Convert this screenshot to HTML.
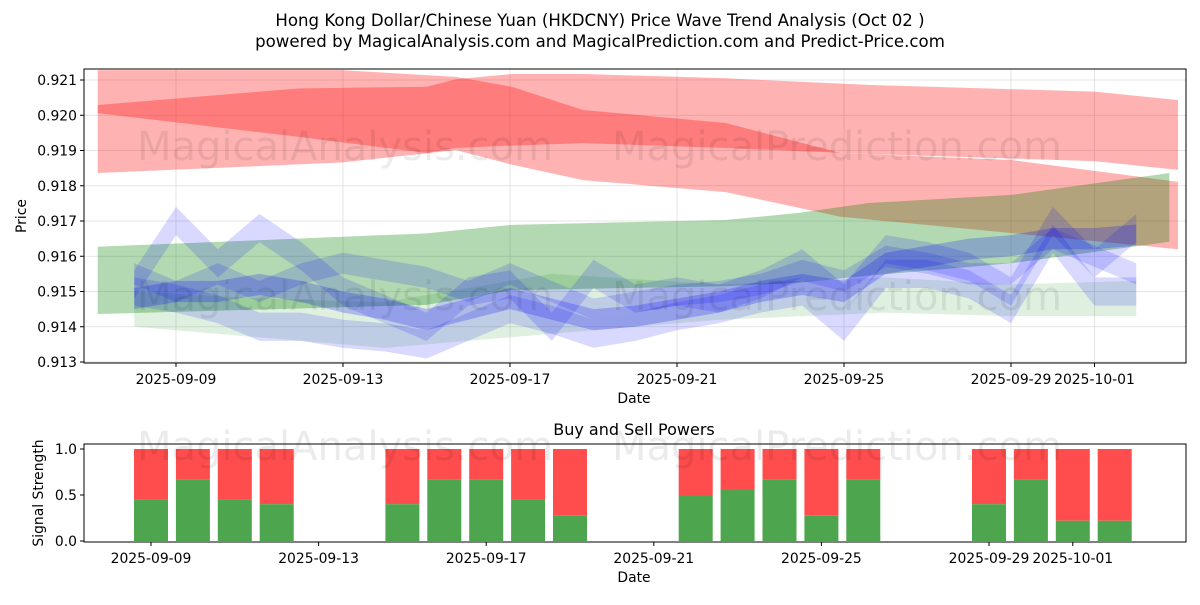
<!DOCTYPE html>
<html><head><meta charset="utf-8"><style>
body{margin:0;background:#fff;font-family:"Liberation Sans","DejaVu Sans",sans-serif}
svg text{font-family:"DejaVu Sans","Liberation Sans",sans-serif}
</style></head><body>
<svg id="c" width="1200" height="600" xmlns="http://www.w3.org/2000/svg">
<defs><clipPath id="clipTop"><rect x="84" y="69" width="1102" height="294"/></clipPath></defs>
<rect width="1200" height="600" fill="#fff"/>
<text x="600" y="26" font-size="16.6" text-anchor="middle">Hong Kong Dollar/Chinese Yuan (HKDCNY) Price Wave Trend Analysis (Oct 02 )</text>
<text x="600" y="47" font-size="16.6" text-anchor="middle">powered by MagicalAnalysis.com and MagicalPrediction.com and Predict-Price.com</text>
<g id="topPanel"></g><g id="botPanel"></g>
</svg>
<script>
const NS='http://www.w3.org/2000/svg';
function mk(p,t,a,txt){const e=document.createElementNS(NS,t);for(const k in a)e.setAttribute(k,a[k]);if(txt!==undefined)e.textContent=txt;p.appendChild(e);return e;}
// ---- data ----
const tickDates=['2025-09-09','2025-09-13','2025-09-17','2025-09-21','2025-09-25','2025-09-29','2025-10-01'];
const priceTicks=[0.913,0.914,0.915,0.916,0.917,0.918,0.919,0.920,0.921];
const redADates=['2025-09-07T03:00Z','2025-09-12T23:00Z','2025-09-15T17:00Z','2025-09-17T01:00Z','2025-09-18T18:00Z','2025-09-22T04:00Z','2025-09-24T22:00Z','2025-09-29T00:00Z','2025-10-03T00:00Z'];
const redAUpper=[0.92128,0.92128,0.92109,0.92081,0.92015,0.91978,0.91893,0.91873,0.91811];
const redALower=[0.91836,0.91866,0.91901,0.91860,0.91816,0.91782,0.91712,0.91666,0.91620];
const redBDates=['2025-09-07T03:00Z','2025-09-11T22:00Z','2025-09-15T00:00Z','2025-09-15T17:00Z','2025-09-17T01:00Z','2025-09-18T18:00Z','2025-09-22T04:00Z','2025-09-25T14:00Z','2025-10-01T00:00Z','2025-10-03T00:00Z'];
const redBUpper=[0.92029,0.92076,0.92081,0.92102,0.92117,0.92117,0.92105,0.92086,0.92067,0.92043];
const redBLower=[0.92006,0.91939,0.91893,0.91907,0.91914,0.91921,0.91907,0.91890,0.91870,0.91845];
const greenDates=['2025-09-07T03:00Z','2025-09-15T00:00Z','2025-09-17T01:00Z','2025-09-22T04:00Z','2025-09-23T22:00Z','2025-09-25T14:00Z','2025-09-29T00:00Z','2025-10-02T19:00Z'];
const greenUpper=[0.91627,0.91665,0.91689,0.91703,0.91723,0.91751,0.91774,0.91836];
const greenLower=[0.91436,0.91462,0.91504,0.91515,0.91525,0.91545,0.91580,0.91641];
const green2Dates=['2025-09-08','2025-09-11','2025-09-14','2025-09-18','2025-09-22','2025-09-26','2025-09-29','2025-10-02'];
const green2Upper=[0.9150,0.9148,0.9147,0.9155,0.9152,0.9154,0.9152,0.9153];
const green2Lower=[0.9140,0.9137,0.9134,0.9138,0.9142,0.9144,0.9143,0.9143];
const waveDates=['2025-09-08','2025-09-09','2025-09-10','2025-09-11','2025-09-12','2025-09-13','2025-09-14','2025-09-15','2025-09-16','2025-09-17','2025-09-18','2025-09-19','2025-09-20','2025-09-21','2025-09-22','2025-09-23','2025-09-24','2025-09-25','2025-09-26','2025-09-27','2025-09-28','2025-09-29','2025-09-30','2025-10-01','2025-10-02'];
const blue1=[0.9152,0.9170,0.9158,0.9168,0.9160,0.9150,0.9145,0.9140,0.9150,0.9152,0.9140,0.9155,0.9148,0.9150,0.9148,0.9152,0.9158,0.9148,0.9162,0.9160,0.9157,0.9150,0.9170,0.9158,0.9168];
const blue2=[0.9150,0.9148,0.9145,0.9140,0.9140,0.9138,0.9137,0.9135,0.9140,0.9145,0.9142,0.9138,0.9140,0.9143,0.9145,0.9148,0.9150,0.9140,0.9155,0.9155,0.9152,0.9145,0.9165,0.9150,0.9150];
const blue3=[0.9148,0.9150,0.9150,0.9152,0.9150,0.9147,0.9145,0.9142,0.9145,0.9148,0.9145,0.9142,0.9143,0.9145,0.9147,0.9150,0.9152,0.9150,0.9158,0.9160,0.9162,0.9163,0.9165,0.9165,0.9166];
const blue4=[0.9155,0.9150,0.9155,0.9150,0.9155,0.9158,0.9156,0.9154,0.9150,0.9155,0.9150,0.9145,0.9147,0.9149,0.9150,0.9152,0.9156,0.9153,0.9160,0.9158,0.9155,0.9155,0.9165,0.9160,0.9155];
const barDates=['2025-09-09','2025-09-10','2025-09-11','2025-09-12','2025-09-15','2025-09-16','2025-09-17','2025-09-18','2025-09-19','2025-09-22','2025-09-23','2025-09-24','2025-09-25','2025-09-26','2025-09-29','2025-09-30','2025-10-01','2025-10-02'];
const buyPower=[0.45,0.67,0.45,0.40,0.40,0.67,0.67,0.45,0.28,0.50,0.56,0.67,0.28,0.67,0.40,0.67,0.22,0.22];
const strengthTicks=[0.0,0.5,1.0];
// ---- scales ----
const D0=Date.parse('2025-09-09T00:00Z');const DAY=864e5;
const pd=d=>Date.parse(d.length===10?d+'T00:00Z':d);
const xt=d=>176+(pd(d)-D0)/DAY*41.75;
const yt=v=>362-(v-0.913)*35250;
const xb=d=>151+(pd(d)-D0)/DAY*41.9;
const yb=v=>541-v*92;
const topG=document.getElementById('topPanel'),botG=document.getElementById('botPanel');
const L=84,R=1186,T=69,B=363,FS=13.9;
tickDates.forEach(d=>{const x=xt(d);
 let g=mk(topG,'line',{x1:x,x2:x,y1:T,y2:B,stroke:'#ddd','stroke-width':0.8});
 
 mk(topG,'line',{x1:x,x2:x,y1:B,y2:B+4,stroke:'#000'});
 let t=mk(topG,'text',{x:x,y:B+21,'font-size':FS,'text-anchor':'middle'},d);
 });
priceTicks.forEach(v=>{const y=yt(v);
 mk(topG,'line',{x1:L,x2:R,y1:y,y2:y,stroke:'#ddd','stroke-width':0.8});
 mk(topG,'line',{x1:L-4,x2:L,y1:y,y2:y,stroke:'#000'});
 let t=mk(topG,'text',{x:L-7,y:y+5,'font-size':FS,'text-anchor':'end'},v.toFixed(3));
 });
const plotG=mk(topG,'g',{'clip-path':'url(#clipTop)'});
function band(dates,up,lo,fill,op,name){
 let p=dates.map((d,i)=>xt(d)+','+yt(up[i]));
 for(let i=dates.length-1;i>=0;i--)p.push(xt(dates[i])+','+yt(lo[i]));
 let e=mk(plotG,'polygon',{points:p.join(' '),fill:fill,'fill-opacity':op});
 }
band(redADates,redAUpper,redALower,'#ff0000',0.3,'red-band-descending');
band(redBDates,redBUpper,redBLower,'#ff0000',0.3,'red-band-flat');
band(green2Dates,green2Upper,green2Lower,'#008000',0.12,'green-band-lower');
band(greenDates,greenUpper,greenLower,'#008000',0.3,'green-band-upper');
function wave(arr,w,op,name){band(waveDates,arr.map(v=>v+w),arr.map(v=>v-w),'#0000ff',op,name);}
wave(blue1,0.0004,0.15,'blue-wave-1');
wave(blue2,0.0004,0.15,'blue-wave-2');
wave(blue3,0.0003,0.22,'blue-wave-3');
wave(blue4,0.0003,0.15,'blue-wave-4');
[[345,160],[837,160],[345,310],[837,310]].forEach((p,i)=>mk(topG,'text',{x:p[0],y:p[1],'font-size':40,fill:'#000','fill-opacity':0.08,'text-anchor':'middle'},i%2?'MagicalPrediction.com':'MagicalAnalysis.com'));
mk(topG,'rect',{x:L,y:T,width:R-L,height:B-T,fill:'none',stroke:'#000','stroke-width':1});
mk(topG,'text',{x:634,y:403,'font-size':FS,'text-anchor':'middle'},'Date');
mk(topG,'text',{x:26,y:216,'font-size':FS,'text-anchor':'middle',transform:'rotate(-90 26 216)'},'Price');
const BT=444,BB=542;
mk(botG,'text',{x:634,y:435,'font-size':16,'text-anchor':'middle'},'Buy and Sell Powers');
barDates.forEach((d,i)=>{const x=xb(d)-17;
 let s=mk(botG,'rect',{x:x,y:yb(1),width:34,height:yb(buyPower[i])-yb(1),fill:'#ff4d4d'});
 
 let b=mk(botG,'rect',{x:x,y:yb(buyPower[i]),width:34,height:yb(0)-yb(buyPower[i]),fill:'#4da64d'});
 });
tickDates.forEach(d=>{const x=xb(d);
 mk(botG,'line',{x1:x,x2:x,y1:BB,y2:BB+4,stroke:'#000'});
 mk(botG,'text',{x:x,y:BB+21,'font-size':FS,'text-anchor':'middle'},d);});
strengthTicks.forEach(v=>{const y=yb(v);
 mk(botG,'line',{x1:L-4,x2:L,y1:y,y2:y,stroke:'#000'});
 mk(botG,'text',{x:L-7,y:y+5,'font-size':FS,'text-anchor':'end'},v.toFixed(1));});
mk(botG,'text',{x:345,y:460,'font-size':40,fill:'#000','fill-opacity':0.08,'text-anchor':'middle'},'MagicalAnalysis.com');
mk(botG,'text',{x:837,y:460,'font-size':40,fill:'#000','fill-opacity':0.08,'text-anchor':'middle'},'MagicalPrediction.com');
mk(botG,'rect',{x:L,y:BT,width:R-L,height:BB-BT,fill:'none',stroke:'#000','stroke-width':1});
mk(botG,'text',{x:634,y:582,'font-size':FS,'text-anchor':'middle'},'Date');
mk(botG,'text',{x:43,y:493,'font-size':FS,'text-anchor':'middle',transform:'rotate(-90 43 493)'},'Signal Strength');
</script>
</body></html>
